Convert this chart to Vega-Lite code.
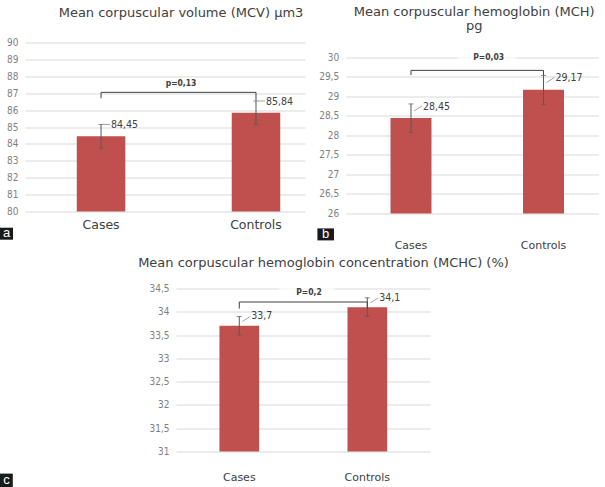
{
  "$schema": "https://vega.github.io/schema/vega-lite/v6.json",
  "autosize": {"type": "pad"},
  "padding": {"left": 0, "top": 5.5, "right": 0, "bottom": 0},
  "background": "white",
  "config": {
    "view": {"stroke": null},
    "axis": {"domain": false, "ticks": false, "title": null, "gridColor": "#d9d9d9", "gridWidth": 1},
    "axisY": {"labelFont": "Liberation Sans Narrow, DejaVu Sans Condensed, sans-serif", "labelFontSize": 10, "labelColor": "#7f7f7f", "labelPadding": 7},
    "axisX": {"grid": false, "labelAngle": 0, "labelFont": "DejaVu Sans", "labelColor": "#404040"},
    "title": {"font": "DejaVu Sans", "fontSize": 13, "fontWeight": "normal", "color": "#404040", "frame": "group", "anchor": "middle"},
    "text": {"font": "Liberation Sans Narrow, DejaVu Sans Condensed, sans-serif"}
  },
  "spacing": 6,
  "vconcat": [
    {
      "spacing": 11.7,
      "hconcat": [
        {
          "width": 280,
          "height": 169,
          "title": {"text": "Mean corpuscular volume (MCV) µm3", "offset": 18, "dx": 16},
          "data": {"values": [
            {"group": "Cases", "mean": 84.45, "lo": 83.75, "hi": 85.15, "label": "84,45"},
            {"group": "Controls", "mean": 85.84, "lo": 85.14, "hi": 86.54, "label": "85,84"}
          ]},
          "encoding": {
            "x": {"field": "group", "type": "nominal", "sort": null,
                  "scale": {"paddingInner": 0.687, "paddingOuter": 0.247, "align": 0.6765},
                  "axis": {"labelPadding": 7, "labelFontSize": 12.5}}
          },
          "layer": [
            {"mark": {"type": "bar", "color": "#c0504d"},
             "encoding": {"y": {"field": "mean", "type": "quantitative", "scale": {"domain": [80, 90], "zero": false, "nice": false},
                                "axis": {"values": [80, 81, 82, 83, 84, 85, 86, 87, 88, 89, 90], "labelOverlap": false}},
                          "y2": {"datum": 80}}},
            {"mark": {"type": "rule", "color": "#595959"},
             "encoding": {"y": {"field": "lo", "type": "quantitative", "axis": {"values": [80, 81, 82, 83, 84, 85, 86, 87, 88, 89, 90], "labelOverlap": false}}, "y2": {"field": "hi"}}},
            {"mark": {"type": "tick", "color": "#595959", "size": 5, "thickness": 1},
             "encoding": {"y": {"field": "hi", "type": "quantitative", "axis": {"values": [80, 81, 82, 83, 84, 85, 86, 87, 88, 89, 90], "labelOverlap": false}}}},
            {"mark": {"type": "tick", "color": "#595959", "size": 5, "thickness": 1},
             "encoding": {"y": {"field": "lo", "type": "quantitative", "axis": {"values": [80, 81, 82, 83, 84, 85, 86, 87, 88, 89, 90], "labelOverlap": false}}}},
            {"mark": {"type": "rule", "color": "#a6a6a6", "xOffset": 2, "x2Offset": 9},
             "encoding": {"x2": {"field": "group"}, "y": {"field": "hi", "type": "quantitative", "axis": {"values": [80, 81, 82, 83, 84, 85, 86, 87, 88, 89, 90], "labelOverlap": false}}}},
            {"mark": {"type": "text", "align": "left", "baseline": "middle", "dx": 10, "dy": 1, "fontSize": 10.5, "color": "#404040"},
             "encoding": {"y": {"field": "hi", "type": "quantitative", "axis": {"values": [80, 81, 82, 83, 84, 85, 86, 87, 88, 89, 90], "labelOverlap": false}}, "text": {"field": "label"}}},
            {"data": {"values": [
               {"group": "Cases", "v": 86.7, "o": 1},
               {"group": "Cases", "v": 87.05, "o": 2},
               {"group": "Controls", "v": 87.05, "o": 3},
               {"group": "Controls", "v": 86.58, "o": 4}]},
             "mark": {"type": "line", "color": "#404040", "strokeWidth": 1},
             "encoding": {"y": {"field": "v", "type": "quantitative", "axis": {"values": [80, 81, 82, 83, 84, 85, 86, 87, 88, 89, 90], "labelOverlap": false}}, "order": {"field": "o"}}},
            {"data": {"values": [{"group": "Cases", "p": "p=0,13", "v": 87.6}]},
             "mark": {"type": "text", "align": "center", "baseline": "middle", "dx": 80, "fontSize": 8.5, "fontWeight": "bold", "color": "#404040"},
             "encoding": {"y": {"field": "v", "type": "quantitative", "axis": {"values": [80, 81, 82, 83, 84, 85, 86, 87, 88, 89, 90], "labelOverlap": false}}, "text": {"field": "p"}}},
            {"data": {"values": [{"letter": "a"}]},
             "mark": {"type": "point", "shape": "M-6.5,-6L6.5,-6L6.5,6L-6.5,6Z", "size": 4, "filled": true, "color": "#1a1a1a", "opacity": 1},
             "encoding": {"x": {"value": -18.5}, "y": {"value": 191.2}}},
            {"data": {"values": [{"letter": "a"}]},
             "mark": {"type": "text", "font": "Liberation Sans", "fontSize": 13, "color": "white", "align": "center", "baseline": "middle"},
             "encoding": {"x": {"value": -18.5}, "y": {"value": 190.5}, "text": {"field": "letter"}}}
          ]
        },
        {
          "width": 253,
          "height": 171,
          "title": {"text": ["Mean corpuscular hemoglobin (MCH)", "pg"], "lineHeight": 14, "offset": 9.1, "dx": 2},
          "data": {"values": [
            {"group": "Cases", "mean": 28.45, "lo": 28.08, "hi": 28.81, "label": "28,45"},
            {"group": "Controls", "mean": 29.17, "lo": 28.79, "hi": 29.54, "label": "29,17"}
          ]},
          "encoding": {
            "x": {"field": "group", "type": "nominal", "sort": null,
                  "scale": {"paddingInner": 0.6906, "paddingOuter": 0.3, "align": 0.5635},
                  "axis": {"labelPadding": 26, "labelFontSize": 11}}
          },
          "layer": [
            {"mark": {"type": "bar", "color": "#c0504d"},
             "encoding": {"y": {"field": "mean", "type": "quantitative", "scale": {"domain": [26, 30.3846], "zero": false, "nice": false},
                                "axis": {"values": [26, 26.5, 27, 27.5, 28, 28.5, 29, 29.5, 30], "labelOverlap": false, "format": "~g", "labelExpr": "replace(datum.label, '.', ',')"}},
                          "y2": {"datum": 26}}},
            {"data": {"values": [{"group": "Cases", "v": 30}]},
             "mark": {"type": "tick", "color": "white", "size": 58, "thickness": 3, "xOffset": 75.6},
             "encoding": {"y": {"field": "v", "type": "quantitative", "axis": {"values": [26, 26.5, 27, 27.5, 28, 28.5, 29, 29.5, 30], "labelOverlap": false, "format": "~g", "labelExpr": "replace(datum.label, '.', ',')"}}}},
            {"mark": {"type": "rule", "color": "#595959"},
             "encoding": {"y": {"field": "lo", "type": "quantitative", "axis": {"values": [26, 26.5, 27, 27.5, 28, 28.5, 29, 29.5, 30], "labelOverlap": false, "format": "~g", "labelExpr": "replace(datum.label, '.', ',')"}}, "y2": {"field": "hi"}}},
            {"mark": {"type": "tick", "color": "#595959", "size": 5, "thickness": 1},
             "encoding": {"y": {"field": "hi", "type": "quantitative", "axis": {"values": [26, 26.5, 27, 27.5, 28, 28.5, 29, 29.5, 30], "labelOverlap": false, "format": "~g", "labelExpr": "replace(datum.label, '.', ',')"}}}},
            {"mark": {"type": "tick", "color": "#595959", "size": 5, "thickness": 1},
             "encoding": {"y": {"field": "lo", "type": "quantitative", "axis": {"values": [26, 26.5, 27, 27.5, 28, 28.5, 29, 29.5, 30], "labelOverlap": false, "format": "~g", "labelExpr": "replace(datum.label, '.', ',')"}}}},
            {"mark": {"type": "rule", "color": "#a6a6a6", "xOffset": 3, "x2Offset": 11, "yOffset": 7, "y2Offset": 2},
             "encoding": {"x2": {"field": "group"}, "y": {"field": "hi", "type": "quantitative", "axis": {"values": [26, 26.5, 27, 27.5, 28, 28.5, 29, 29.5, 30], "labelOverlap": false, "format": "~g", "labelExpr": "replace(datum.label, '.', ',')"}}, "y2": {"field": "hi"}}},
            {"mark": {"type": "text", "align": "left", "baseline": "middle", "dx": 12, "dy": 3, "fontSize": 10.5, "color": "#404040"},
             "encoding": {"y": {"field": "hi", "type": "quantitative", "axis": {"values": [26, 26.5, 27, 27.5, 28, 28.5, 29, 29.5, 30], "labelOverlap": false, "format": "~g", "labelExpr": "replace(datum.label, '.', ',')"}}, "text": {"field": "label"}}},
            {"data": {"values": [
               {"group": "Cases", "v": 29.55, "o": 1},
               {"group": "Cases", "v": 29.67, "o": 2},
               {"group": "Controls", "v": 29.67, "o": 3},
               {"group": "Controls", "v": 29.55, "o": 4}]},
             "mark": {"type": "line", "color": "#404040", "strokeWidth": 1},
             "encoding": {"y": {"field": "v", "type": "quantitative", "axis": {"values": [26, 26.5, 27, 27.5, 28, 28.5, 29, 29.5, 30], "labelOverlap": false, "format": "~g", "labelExpr": "replace(datum.label, '.', ',')"}}, "order": {"field": "o"}}},
            {"data": {"values": [{"group": "Cases", "p": "P=0,03", "v": 30.01}]},
             "mark": {"type": "text", "align": "center", "baseline": "middle", "dx": 77.7, "fontSize": 8.5, "fontWeight": "bold", "color": "#404040"},
             "encoding": {"y": {"field": "v", "type": "quantitative", "axis": {"values": [26, 26.5, 27, 27.5, 28, 28.5, 29, 29.5, 30], "labelOverlap": false, "format": "~g", "labelExpr": "replace(datum.label, '.', ',')"}}, "text": {"field": "p"}}},
            {"data": {"values": [{"letter": "b"}]},
             "mark": {"type": "point", "shape": "M-8.3,-6L8.3,-6L8.3,6L-8.3,6Z", "size": 4, "filled": true, "color": "#1a1a1a", "opacity": 1},
             "encoding": {"x": {"value": -20}, "y": {"value": 191.9}}},
            {"data": {"values": [{"letter": "b"}]},
             "mark": {"type": "text", "font": "Liberation Sans", "fontSize": 13, "color": "white", "align": "center", "baseline": "middle"},
             "encoding": {"x": {"value": -20}, "y": {"value": 191.2}, "text": {"field": "letter"}}}
          ]
        }
      ]
    },
    {
      "spacing": 0,
      "hconcat": [
        {
          "width": 112.7,
          "height": 163,
          "data": {"values": [{"letter": "c"}]},
          "layer": [
            {"mark": {"type": "point", "shape": "M-6.4,-6.9L6.4,-6.9L6.4,6.9L-6.4,6.9Z", "size": 4, "filled": true, "color": "#1a1a1a", "opacity": 1},
             "encoding": {"x": {"value": -18.6}, "y": {"value": 192}}},
            {"mark": {"type": "text", "font": "Liberation Sans", "fontSize": 13, "color": "white", "align": "center", "baseline": "middle"},
             "encoding": {"x": {"value": -18.6}, "y": {"value": 191.5}, "text": {"field": "letter"}}}
          ]
        },
        {
          "width": 254,
          "height": 163,
          "title": {"text": "Mean corpuscular hemoglobin concentration (MCHC) (%)", "offset": 14, "dx": 20.5},
          "data": {"values": [
            {"group": "Cases", "mean": 33.7, "lo": 33.5, "hi": 33.9, "label": "33,7"},
            {"group": "Controls", "mean": 34.1, "lo": 33.9, "hi": 34.3, "label": "34,1"}
          ]},
          "encoding": {
            "x": {"field": "group", "type": "nominal", "sort": null,
                  "scale": {"paddingInner": 0.69, "paddingOuter": 0.337, "align": 0.5035},
                  "axis": {"labelPadding": 20, "labelFontSize": 11}}
          },
          "layer": [
            {"mark": {"type": "bar", "color": "#c0504d"},
             "encoding": {"y": {"field": "mean", "type": "quantitative", "scale": {"domain": [31, 34.5], "zero": false, "nice": false},
                                "axis": {"values": [31, 31.5, 32, 32.5, 33, 33.5, 34, 34.5], "labelOverlap": false, "format": "~g", "labelExpr": "replace(datum.label, '.', ',')"}},
                          "y2": {"datum": 31}}},
            {"data": {"values": [{"group": "Cases", "v": 34.5}]},
             "mark": {"type": "tick", "color": "white", "size": 55, "thickness": 3, "xOffset": 67.2},
             "encoding": {"y": {"field": "v", "type": "quantitative", "axis": {"values": [31, 31.5, 32, 32.5, 33, 33.5, 34, 34.5], "labelOverlap": false, "format": "~g", "labelExpr": "replace(datum.label, '.', ',')"}}}},
            {"mark": {"type": "rule", "color": "#595959"},
             "encoding": {"y": {"field": "lo", "type": "quantitative", "axis": {"values": [31, 31.5, 32, 32.5, 33, 33.5, 34, 34.5], "labelOverlap": false, "format": "~g", "labelExpr": "replace(datum.label, '.', ',')"}}, "y2": {"field": "hi"}}},
            {"mark": {"type": "tick", "color": "#595959", "size": 5, "thickness": 1},
             "encoding": {"y": {"field": "hi", "type": "quantitative", "axis": {"values": [31, 31.5, 32, 32.5, 33, 33.5, 34, 34.5], "labelOverlap": false, "format": "~g", "labelExpr": "replace(datum.label, '.', ',')"}}}},
            {"mark": {"type": "tick", "color": "#595959", "size": 5, "thickness": 1},
             "encoding": {"y": {"field": "lo", "type": "quantitative", "axis": {"values": [31, 31.5, 32, 32.5, 33, 33.5, 34, 34.5], "labelOverlap": false, "format": "~g", "labelExpr": "replace(datum.label, '.', ',')"}}}},
            {"mark": {"type": "rule", "color": "#a6a6a6", "xOffset": 3, "x2Offset": 11, "yOffset": 5, "y2Offset": 0},
             "encoding": {"x2": {"field": "group"}, "y": {"field": "hi", "type": "quantitative", "axis": {"values": [31, 31.5, 32, 32.5, 33, 33.5, 34, 34.5], "labelOverlap": false, "format": "~g", "labelExpr": "replace(datum.label, '.', ',')"}}, "y2": {"field": "hi"}}},
            {"mark": {"type": "text", "align": "left", "baseline": "middle", "dx": 12, "dy": 0, "fontSize": 10.5, "color": "#404040"},
             "encoding": {"y": {"field": "hi", "type": "quantitative", "axis": {"values": [31, 31.5, 32, 32.5, 33, 33.5, 34, 34.5], "labelOverlap": false, "format": "~g", "labelExpr": "replace(datum.label, '.', ',')"}}, "text": {"field": "label"}}},
            {"data": {"values": [
               {"group": "Cases", "v": 34.07, "o": 1},
               {"group": "Cases", "v": 34.21, "o": 2},
               {"group": "Controls", "v": 34.21, "o": 3},
               {"group": "Controls", "v": 34.07, "o": 4}]},
             "mark": {"type": "line", "color": "#404040", "strokeWidth": 1},
             "encoding": {"y": {"field": "v", "type": "quantitative", "axis": {"values": [31, 31.5, 32, 32.5, 33, 33.5, 34, 34.5], "labelOverlap": false, "format": "~g", "labelExpr": "replace(datum.label, '.', ',')"}}, "order": {"field": "o"}}},
            {"data": {"values": [{"group": "Cases", "p": "P=0,2", "v": 34.43}]},
             "mark": {"type": "text", "align": "center", "baseline": "middle", "dx": 69.7, "fontSize": 8.5, "fontWeight": "bold", "color": "#404040"},
             "encoding": {"y": {"field": "v", "type": "quantitative", "axis": {"values": [31, 31.5, 32, 32.5, 33, 33.5, 34, 34.5], "labelOverlap": false, "format": "~g", "labelExpr": "replace(datum.label, '.', ',')"}}, "text": {"field": "p"}}}
          ]
        }
      ]
    }
  ]
}
